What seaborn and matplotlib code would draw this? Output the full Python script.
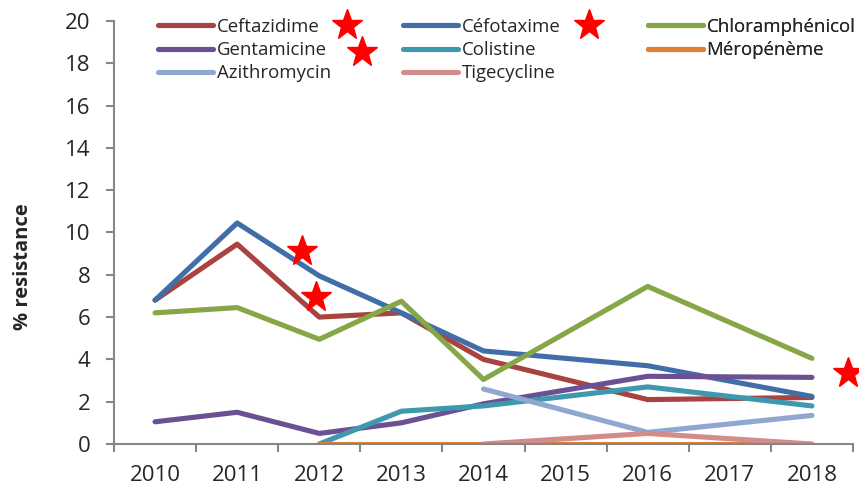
import pandas as pd
import matplotlib
matplotlib.use("Agg")
import matplotlib.pyplot as plt
from matplotlib.lines import Line2D
import seaborn as sns

years = [2010, 2011, 2012, 2013, 2014, 2015, 2016, 2017, 2018]

# values per antibiotic (years with data only, Excel joins the gaps)
ceftazidime_years = [2010, 2011, 2012, 2013, 2014, 2016, 2018]
ceftazidime = [6.8, 9.45, 6.0, 6.2, 4.0, 2.1, 2.2]
cefotaxime_years = [2010, 2011, 2012, 2013, 2014, 2016, 2018]
cefotaxime = [6.8, 10.45, 7.95, 6.2, 4.4, 3.7, 2.25]
chloramphenicol_years = [2010, 2011, 2012, 2013, 2014, 2016, 2018]
chloramphenicol = [6.2, 6.45, 4.95, 6.75, 3.05, 7.45, 4.05]
gentamicine_years = [2010, 2011, 2012, 2013, 2014, 2016, 2018]
gentamicine = [1.05, 1.5, 0.5, 1.0, 1.9, 3.2, 3.15]
colistine_years = [2012, 2013, 2014, 2016, 2018]
colistine = [0.0, 1.55, 1.8, 2.7, 1.8]
meropeneme_years = [2012, 2013, 2014, 2016, 2018]
meropeneme = [0.0, 0.0, 0.0, 0.0, 0.0]
azithromycin_years = [2014, 2016, 2018]
azithromycin = [2.6, 0.55, 1.35]
tigecycline_years = [2014, 2016, 2018]
tigecycline = [0.0, 0.5, 0.0]

drugs = ["Ceftazidime", "Céfotaxime", "Chloramphénicol", "Gentamicine",
         "Colistine", "Méropénème", "Azithromycin", "Tigecycline"]
colors = ["#A8433F", "#416EA8", "#86A747", "#6B5193",
          "#3E98B0", "#DF8136", "#8FA8CF", "#D08D8C"]

series = [(ceftazidime_years, ceftazidime), (cefotaxime_years, cefotaxime),
          (chloramphenicol_years, chloramphenicol), (gentamicine_years, gentamicine),
          (colistine_years, colistine), (meropeneme_years, meropeneme),
          (azithromycin_years, azithromycin), (tigecycline_years, tigecycline)]

rows = []
for name, (yrs, vals) in zip(drugs, series):
    for yr, v in zip(yrs, vals):
        rows.append({"drug": name, "pos": years.index(yr), "value": v})
df = pd.DataFrame(rows)

sns.set_style("white")
plt.rcParams["font.family"] = ["Open Sans", "DejaVu Sans"]

fig = plt.figure(figsize=(8.59, 4.88), dpi=100)
ax = fig.add_axes([114 / 859, 1 - 444 / 488, 739 / 859, 423 / 488])

palette = dict(zip(drugs, colors))
sns.lineplot(data=df, x="pos", y="value", hue="drug", hue_order=drugs,
             palette=palette, linewidth=3.7, sort=True, legend=False, ax=ax,
             solid_capstyle="round")

ax.set_xlim(-0.5, 8.5)
ax.set_ylim(0, 20)
ax.set_yticks(range(0, 21, 2))
ax.set_xticks(range(len(years)))
ax.set_xticklabels([str(y) for y in years])
ax.set_xticks([i - 0.5 for i in range(len(years) + 1)], minor=True)
ax.tick_params(axis="x", which="major", length=0, pad=15, labelsize=16)
ax.tick_params(axis="x", which="minor", length=5.8, width=1.5, color="#868686",
               direction="out", bottom=True)
ax.tick_params(axis="y", length=5.8, width=1.5, color="#868686", direction="out",
               left=True, labelsize=16, pad=11)
ax.set_xlabel("")
ax.set_ylabel("")
fig.text(23 / 859, 1 - 267 / 488, "% resistance", rotation=90, ha="center",
         va="center", fontsize=14.5, fontweight="bold")

for s in ["top", "right"]:
    ax.spines[s].set_visible(False)
for s in ["left", "bottom"]:
    ax.spines[s].set_color("#868686")
    ax.spines[s].set_linewidth(1.5)

# legend: three fixed columns like the original
columns = [([0, 3, 6], 158), ([1, 4, 7], 403), ([2, 5], 648)]
for idx, xpx in columns:
    handles = [Line2D([], [], color=colors[i], linewidth=3.7, solid_capstyle="round")
               for i in idx]
    leg = ax.legend(handles, [drugs[i] for i in idx], loc="upper left",
                    bbox_to_anchor=(xpx / 859, 1 - 18 / 488),
                    bbox_transform=fig.transFigure, frameon=False, fontsize=13.4,
                    handlelength=2.95, handletextpad=0.2, labelspacing=0.27,
                    borderpad=0, borderaxespad=0)
    ax.add_artist(leg)

# red stars
stars = [(347, 25), (589, 25), (362, 52), (302, 251), (316, 297), (848, 373)]
for sx, sy in stars:
    fig.lines.append(Line2D([sx / 859], [1 - sy / 488], marker="*", markersize=23,
                            color="#FF0000", linestyle="none",
                            transform=fig.transFigure))

fig.savefig("out.png", dpi=100)
